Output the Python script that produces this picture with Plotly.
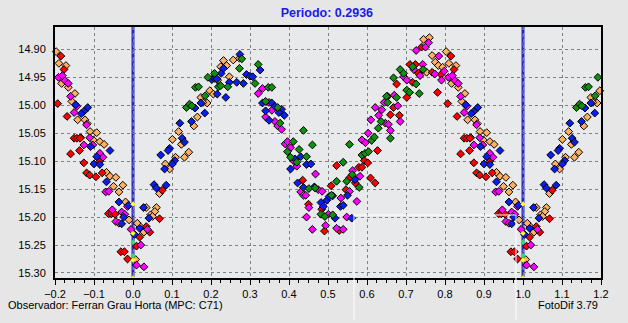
import plotly.graph_objects as go

# Folded light curve, period 0.2936 d. Phases in [0, 1); magnitudes per observer session.
red_phase = [0.815, 0.823, 0.807, 0.831, 0.849, 0.856, 0.864, 0.863, 0.840, 0.874, 0.881, 0.889, 0.905,
             0.921, 0.914, 0.937, 0.945, 0.954, 0.969, 0.978, 0.986,
             0.075, 0.068, 0.034, 0.043, 0.017, 0.009,
             0.435, 0.450, 0.484, 0.491, 0.508,
             0.522, 0.546, 0.555, 0.570, 0.579, 0.587, 0.593, 0.602, 0.609, 0.621, 0.627, 0.660, 0.668,
             0.683, 0.653, 0.676, 0.702, 0.710, 0.724, 0.717, 0.740, 0.732, 0.767, 0.781, 0.790, 0.529]
red_mag = [14.912, 14.936, 14.997, 15.020, 15.059, 15.059, 15.059, 15.081, 15.087, 15.103, 15.121, 15.125, 15.128,
           15.121, 15.101, 15.194, 15.194, 15.195, 15.262, 15.262, 15.275,
           15.152, 15.203, 15.217, 15.227, 15.236, 15.252,
           15.134, 15.177, 15.186, 15.225, 15.144,
           15.108, 15.151, 15.130, 15.139, 15.111, 15.111, 15.099, 15.103, 15.130, 15.139, 15.081, 15.017, 15.004,
           15.018, 14.984, 14.962, 14.986, 14.927, 14.927, 14.959, 14.896, 14.943, 14.941, 14.977, 14.945, 15.224]

orange_phase = [0.803, 0.810, 0.828, 0.817, 0.834, 0.851, 0.843, 0.858, 0.877, 0.883, 0.890, 0.907, 0.898,
                0.915, 0.926, 0.866, 0.932, 0.941, 0.956, 0.950, 0.964, 0.974, 0.981, 0.990,
                0.174, 0.190, 0.179, 0.165, 0.156, 0.117, 0.101, 0.124, 0.109, 0.143, 0.132, 0.083, 0.094,
                0.068, 0.034, 0.060, 0.056, 0.045, 0.050, 0.011, 0.020, 0.028, 0.007, 0.197,
                0.206, 0.217, 0.225, 0.232, 0.240, 0.247, 0.257, 0.273,
                0.745, 0.760, 0.767, 0.775, 0.783, 0.794, 0.753]
orange_mag = [14.904, 14.925, 14.929, 14.961, 14.968, 14.979, 14.993, 15.026, 15.026, 15.033, 15.047, 15.049, 15.062,
              15.065, 15.070, 15.058, 15.120, 15.127, 15.129, 15.145, 15.155, 15.143, 15.173, 15.205,
              14.986, 14.996, 14.995, 15.021, 15.037, 15.047, 15.061, 15.070, 15.093, 15.084, 15.093, 15.105, 15.114,
              15.158, 15.183, 15.183, 15.190, 15.196, 15.199, 15.211, 15.218, 15.227, 15.276, 14.974,
              14.980, 14.955, 14.931, 14.920, 14.929, 14.949, 14.919, 14.916,
              14.882, 14.879, 14.911, 14.923, 14.929, 14.932, 14.941]

magenta_phase = [0.809, 0.819, 0.826, 0.834, 0.840, 0.856, 0.849, 0.881, 0.889, 0.874, 0.897, 0.915, 0.923,
                 0.930, 0.938, 0.947, 0.971, 0.979, 0.986, 0.956, 0.964, 0.995,
                 0.037, 0.020, 0.009, 0.028,
                 0.321, 0.332, 0.349, 0.356, 0.340, 0.364, 0.371, 0.381, 0.390, 0.396, 0.404, 0.411, 0.420,
                 0.468, 0.430, 0.437, 0.443, 0.451, 0.445, 0.460, 0.475, 0.485, 0.501, 0.494,
                 0.533, 0.555, 0.574, 0.582, 0.548, 0.522, 0.539, 0.587, 0.596, 0.603, 0.610, 0.621, 0.630,
                 0.638, 0.644, 0.647, 0.655, 0.660, 0.670, 0.679, 0.685, 0.694, 0.702, 0.709, 0.720, 0.726,
                 0.736, 0.743, 0.750, 0.758, 0.774, 0.784, 0.791, 0.798, 0.563]
magenta_mag = [14.950, 14.947, 14.956, 14.961, 14.984, 15.002, 15.013, 15.035, 15.058, 15.071, 15.071, 15.086, 15.093,
               15.155, 15.154, 15.187, 15.191, 15.195, 15.181, 15.208, 15.211, 15.222,
               15.222, 15.250, 15.286, 15.289,
               14.979, 14.970, 14.995, 15.009, 15.021, 15.029, 15.037, 15.043, 15.069, 15.065, 15.076, 15.099, 15.109,
               15.123, 15.155, 15.161, 15.161, 15.183, 15.200, 15.222, 15.151, 15.154, 15.195, 15.215,
               15.166, 15.154, 15.172, 15.127, 15.200, 15.220, 15.222, 15.062, 15.067, 15.050, 15.026, 15.004, 15.018,
               15.008, 14.995, 15.032, 15.034, 15.045, 14.982, 15.001, 15.029, 14.949, 14.955, 14.977, 14.936, 14.902,
               14.947, 14.927, 14.896, 14.888, 14.944, 14.912, 14.955, 14.939, 15.117]

blue_phase = [0.884, 0.874, 0.867, 0.853, 0.891, 0.907, 0.900, 0.915, 0.941, 0.932, 0.964, 0.988, 0.976, 0.971,
              0.184, 0.150, 0.120, 0.126, 0.132, 0.094, 0.090, 0.071, 0.107, 0.101, 0.081, 0.085, 0.054, 0.060,
              0.041, 0.027, 0.017, 0.004, 0.174, 0.159,
              0.202, 0.209, 0.215, 0.226, 0.238, 0.216, 0.247, 0.266, 0.283, 0.232, 0.274, 0.291, 0.300, 0.307,
              0.326, 0.332, 0.356, 0.364, 0.381, 0.374, 0.388, 0.340, 0.349, 0.415, 0.430, 0.404, 0.445, 0.456,
              0.422, 0.437, 0.465, 0.482, 0.488, 0.497, 0.503,
              0.512, 0.532, 0.539, 0.550, 0.518, 0.561, 0.569]
blue_mag = [15.004, 15.011, 15.015, 14.999, 15.074, 15.092, 15.105, 15.106, 15.081, 15.137, 15.173, 15.179, 15.200, 15.212,
            15.014, 15.029, 15.032, 15.059, 15.066, 15.077, 15.081, 15.089, 15.099, 15.105, 15.114, 15.143, 15.142, 15.148,
            15.202, 15.183, 15.220, 15.231, 14.996, 15.005,
            14.954, 14.952, 14.953, 14.943, 14.986, 14.980, 14.959, 14.959, 14.961, 14.934, 14.909, 14.945, 14.948, 14.949,
            14.937, 14.996, 14.996, 15.002, 15.007, 15.013, 15.018, 15.010, 15.027, 15.096, 15.092, 15.114, 15.106, 15.105,
            15.139, 15.147, 15.146, 15.174, 15.181, 15.170, 15.163,
            15.162, 15.181, 15.179, 15.161, 15.202, 15.202, 15.133]

green_phase = [0.192, 0.160, 0.168, 0.185, 0.137, 0.145, 0.151,
               0.209, 0.219, 0.225, 0.243, 0.273, 0.279, 0.313, 0.321, 0.347, 0.356, 0.340, 0.371, 0.377,
               0.437, 0.411, 0.396, 0.404, 0.420, 0.426, 0.445, 0.460, 0.451, 0.467, 0.482, 0.492,
               0.509, 0.512, 0.522, 0.539, 0.548, 0.555, 0.562, 0.580, 0.587, 0.595, 0.604, 0.612, 0.619,
               0.629, 0.636, 0.650, 0.653, 0.660, 0.668, 0.676, 0.685, 0.694, 0.702, 0.709, 0.726, 0.734,
               0.744, 0.717]
green_mag = [14.950, 14.968, 14.967, 14.983, 15.004, 14.998, 15.001,
             14.943, 14.967, 14.965, 14.967, 14.934, 14.917, 14.961, 14.927, 14.968, 14.968, 14.993, 15.004, 15.032,
             15.045, 15.065, 15.083, 15.093, 15.102, 15.079, 15.092, 15.071, 15.149, 15.148, 15.195, 15.199,
             15.161, 15.196, 15.136, 15.102, 15.136, 15.070, 15.124, 15.147, 15.089, 15.086, 15.083, 15.063, 15.057,
             15.041, 15.029, 14.984, 14.995, 15.059, 14.951, 14.986, 14.936, 14.943, 14.973, 14.977, 14.962, 14.979,
             14.936, 14.931]

# Comparison-star checks plotted at phase zero
check_mag = [15.177, 15.229, 15.245, 15.269, 15.277, 15.309]
check_color = ["#FFFF20", "#FFFF20", "#30E070", "#30E070", "#FFFF20", "#FFFF20"]

series = [
    ("orange", orange_phase, orange_mag, "#FFB060"),
    ("red", red_phase, red_mag, "#FF0000"),
    ("magenta", magenta_phase, magenta_mag, "#FF00FF"),
    ("blue", blue_phase, blue_mag, "#0A1EF0"),
    ("green", green_phase, green_mag, "#109010"),
]

X_MIN, X_MAX = -0.2, 1.2


def fold(phases, mags):
    """Repeat points near the cycle edges so the plot spans -0.2 .. 1.2."""
    xs, ys = [], []
    for p, m in zip(phases, mags):
        xs.append(p)
        ys.append(m)
        if p + 1 <= X_MAX:
            xs.append(p + 1)
            ys.append(m)
        if p - 1 >= X_MIN:
            xs.append(p - 1)
            ys.append(m)
    return xs, ys


fig = go.Figure()
for name, ph, mg, col in series:
    xs, ys = fold(ph, mg)
    fig.add_trace(go.Scatter(
        x=xs, y=ys, mode="markers", name=name, showlegend=False,
        marker=dict(symbol="diamond", size=6, color=col, line=dict(color="#000000", width=1)),
        cliponaxis=False,
    ))

for cx in (0.0, 1.0):
    fig.add_trace(go.Scatter(
        x=[cx] * len(check_mag), y=check_mag, mode="markers", showlegend=False,
        marker=dict(symbol="diamond", size=4, color=check_color, line=dict(width=0)),
    ))

# Phase-zero reference lines
for cx in (0.0, 1.0):
    fig.add_shape(type="line", xref="x", yref="paper", x0=cx, x1=cx, y0=0, y1=1,
                  line=dict(color="#2828B4", width=3), layer="between")
    fig.add_shape(type="line", xref="x", yref="paper", x0=cx, x1=cx, y0=0, y1=1,
                  line=dict(color="#7070E8", width=1, dash="4px,4px"), layer="between")

# Thin white outline in the lower right
for x0, y0, x1, y1 in [(0.5476, 0.251, 0.8443, 0.251), (0.5476, 0.251, 0.5476, -0.167),
                       (0.8443, 0.251, 0.8443, -0.167)]:
    fig.add_shape(type="line", xref="paper", yref="paper", x0=x0, y0=y0, x1=x1, y1=y1,
                  line=dict(color="#FFFFFF", width=1), layer="above")

grid = dict(showgrid=True, gridcolor="#808080", gridwidth=1, griddash="3px,3px")
font = dict(family="Liberation Sans, Arial, sans-serif", size=11, color="#000000")

fig.update_layout(
    width=628, height=323,
    margin=dict(l=55, r=27, t=27, b=45),
    paper_bgcolor="#E6E6E6",
    plot_bgcolor="#E8E9EA",
    font=font,
    title=dict(text="<b>Periodo: 0.2936</b>", x=0.5205, xanchor="center", y=0.962, yanchor="middle",
               font=dict(family="Liberation Sans, Arial, sans-serif", size=12.5, color="#1A1AE6")),
    xaxis=dict(range=[X_MIN, X_MAX], dtick=0.1, tick0=0, tickformat=".1f", zeroline=False,
               showline=True, linecolor="#000000", linewidth=2, mirror=True,
               ticks="outside", ticklen=5, tickcolor="#000000", tickwidth=1,
               minor=dict(dtick=0.025, ticks="outside", ticklen=3, tickcolor="#000000", showgrid=False),
               **grid),
    yaxis=dict(range=[15.309, 14.860], dtick=0.05, tick0=14.9, tickformat=".2f", zeroline=False,
               showline=True, linecolor="#000000", linewidth=2, mirror=True,
               ticks="", ticklabelstandoff=5, **grid),
    annotations=[
        dict(text="Observador: Ferran Grau Horta (MPC: C71)", xref="paper", yref="paper",
             x=-0.0897, y=-0.108, xanchor="left", yanchor="middle", showarrow=False, font=font),
        dict(text="FotoDif 3.79", xref="paper", yref="paper",
             x=0.998, y=-0.108, xanchor="right", yanchor="middle", showarrow=False, font=font),
    ],
)

fig.write_html("out.html")
